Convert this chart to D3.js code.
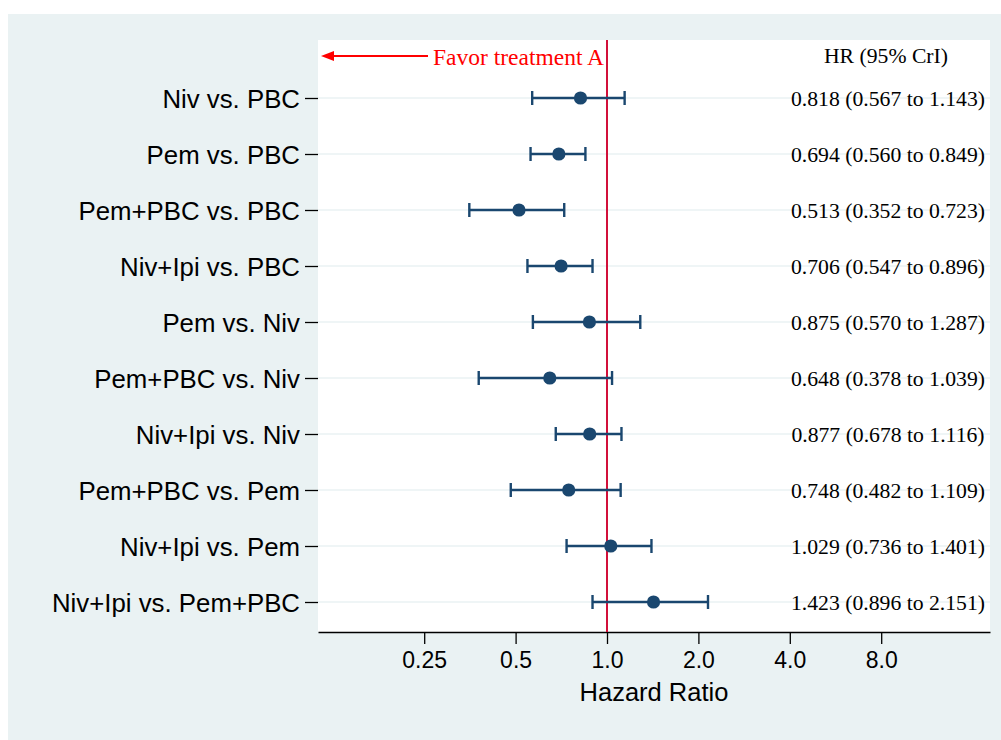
<!DOCTYPE html>
<html>
<head>
<meta charset="utf-8">
<script src="https://cdn.jsdelivr.net/npm/d3@7/dist/d3.min.js"></script>
<style>
  html, body { margin: 0; padding: 0; background: #ffffff; }
  svg { display: block; }
</style>
</head>
<body>
<svg id="chart" width="1001" height="740"></svg>
<script>
const comparisons = ["Niv vs. PBC", "Pem vs. PBC", "Pem+PBC vs. PBC", "Niv+Ipi vs. PBC", "Pem vs. Niv",
  "Pem+PBC vs. Niv", "Niv+Ipi vs. Niv", "Pem+PBC vs. Pem", "Niv+Ipi vs. Pem", "Niv+Ipi vs. Pem+PBC"];
const hr    = [0.818, 0.694, 0.513, 0.706, 0.875, 0.648, 0.877, 0.748, 1.029, 1.423];
const lower = [0.567, 0.560, 0.352, 0.547, 0.570, 0.378, 0.678, 0.482, 0.736, 0.896];
const upper = [1.143, 0.849, 0.723, 0.896, 1.287, 1.039, 1.116, 1.109, 1.401, 2.151];
const xTicks = [0.25, 0.5, 1, 2, 4, 8];
const xTickLabels = ["0.25", "0.5", "1.0", "2.0", "4.0", "8.0"];

const svg = d3.select("#chart");
const W = 1001, H = 740;
const plot = { left: 318, right: 990, top: 40, bottom: 632 };

// outer panel
svg.append("rect").attr("x", 8).attr("y", 14).attr("width", W - 8).attr("height", H - 14).attr("fill", "#eaf2f3");
// plot region
svg.append("rect").attr("x", plot.left).attr("y", plot.top)
  .attr("width", plot.right - plot.left).attr("height", plot.bottom - plot.top).attr("fill", "#ffffff");

// x scale: log2, 1.0 at x=607, 91.4 px per doubling
const pxPerDoubling = 91.4, xOne = 607;
const x = d3.scaleLog().base(2)
  .domain([Math.pow(2, (plot.left - xOne) / pxPerDoubling), Math.pow(2, (plot.right - xOne) / pxPerDoubling)])
  .range([plot.left, plot.right]);
const y = d3.scalePoint().domain(comparisons).range([98, 602]);

const rows = comparisons.map((c, i) => ({ c, hr: hr[i], lo: lower[i], hi: upper[i] }));

// gridlines
svg.append("g").selectAll("line").data(comparisons).join("line")
  .attr("x1", plot.left).attr("x2", plot.right)
  .attr("y1", d => y(d)).attr("y2", d => y(d))
  .attr("stroke", "#eaf2f3").attr("stroke-width", 1.6);

// y axis (ticks + labels, no domain line)
const yAxis = d3.axisLeft(y).tickSize(13).tickPadding(5);
const gy = svg.append("g").attr("transform", `translate(${plot.left},0)`).call(yAxis);
gy.select(".domain").remove();
gy.selectAll(".tick line").attr("stroke", "#000").attr("stroke-width", 1.3);
gy.selectAll(".tick text").attr("fill", "#000")
  .style("font-family", "'Liberation Sans', Arial, sans-serif").style("font-size", "25.8px")
  .attr("dy", "0.36em");

// x axis
const xAxis = d3.axisBottom(x).tickValues(xTicks).tickFormat((d, i) => xTickLabels[i]).tickSize(12).tickPadding(8).tickSizeOuter(0);
const gx = svg.append("g").attr("transform", `translate(0,${plot.bottom})`).call(xAxis);
gx.select(".domain").attr("stroke", "#000").attr("stroke-width", 1.6);
gx.selectAll(".tick line").attr("stroke", "#000").attr("stroke-width", 1.3);
gx.selectAll(".tick text").attr("fill", "#000")
  .style("font-family", "'Liberation Sans', Arial, sans-serif").style("font-size", "23px");

svg.append("text").attr("x", (plot.left + plot.right) / 2).attr("y", 701)
  .attr("text-anchor", "middle").attr("fill", "#000")
  .style("font-family", "'Liberation Sans', Arial, sans-serif").style("font-size", "25.5px")
  .text("Hazard Ratio");

// reference line at HR = 1
svg.append("line").attr("x1", x(1)).attr("x2", x(1)).attr("y1", plot.top).attr("y2", plot.bottom)
  .attr("stroke", "#d2103a").attr("stroke-width", 2);

// error bars
const navy = "#1a476f";
const g = svg.append("g");
g.selectAll("line.ci").data(rows).join("line").attr("class", "ci")
  .attr("x1", d => x(d.lo)).attr("x2", d => x(d.hi))
  .attr("y1", d => y(d.c)).attr("y2", d => y(d.c))
  .attr("stroke", navy).attr("stroke-width", 2.4);
g.selectAll("line.capl").data(rows).join("line").attr("class", "capl")
  .attr("x1", d => x(d.lo)).attr("x2", d => x(d.lo))
  .attr("y1", d => y(d.c) - 7).attr("y2", d => y(d.c) + 7)
  .attr("stroke", navy).attr("stroke-width", 2.4);
g.selectAll("line.caph").data(rows).join("line").attr("class", "caph")
  .attr("x1", d => x(d.hi)).attr("x2", d => x(d.hi))
  .attr("y1", d => y(d.c) - 7).attr("y2", d => y(d.c) + 7)
  .attr("stroke", navy).attr("stroke-width", 2.4);
g.selectAll("circle").data(rows).join("circle")
  .attr("cx", d => x(d.hr)).attr("cy", d => y(d.c)).attr("r", 6.6).attr("fill", navy);

// right-hand annotation
const serif = "'Liberation Serif', 'Times New Roman', serif";
svg.append("text").attr("x", 886).attr("y", 55).attr("dy", "0.35em").attr("text-anchor", "middle")
  .attr("fill", "#000").style("font-family", serif).style("font-size", "21.7px").text("HR (95% CrI)");
svg.append("g").selectAll("text").data(rows).join("text")
  .attr("x", 888).attr("y", d => y(d.c)).attr("dy", "0.35em").attr("text-anchor", "middle")
  .attr("fill", "#000").style("font-family", serif).style("font-size", "21.7px")
  .text(d => `${d.hr.toFixed(3)} (${d.lo.toFixed(3)} to ${d.hi.toFixed(3)})`);

// favor arrow
const red = "#ff0000";
svg.append("text").attr("x", 604).attr("y", 57).attr("dy", "0.35em").attr("text-anchor", "end")
  .attr("fill", red).style("font-family", serif).style("font-size", "23.5px").text("Favor treatment A");
svg.append("line").attr("x1", 330).attr("x2", 428).attr("y1", 56).attr("y2", 56)
  .attr("stroke", red).attr("stroke-width", 1.8);
svg.append("path").attr("d", "M321,56 L334,51 L334,61 Z").attr("fill", red);
</script>
</body>
</html>
